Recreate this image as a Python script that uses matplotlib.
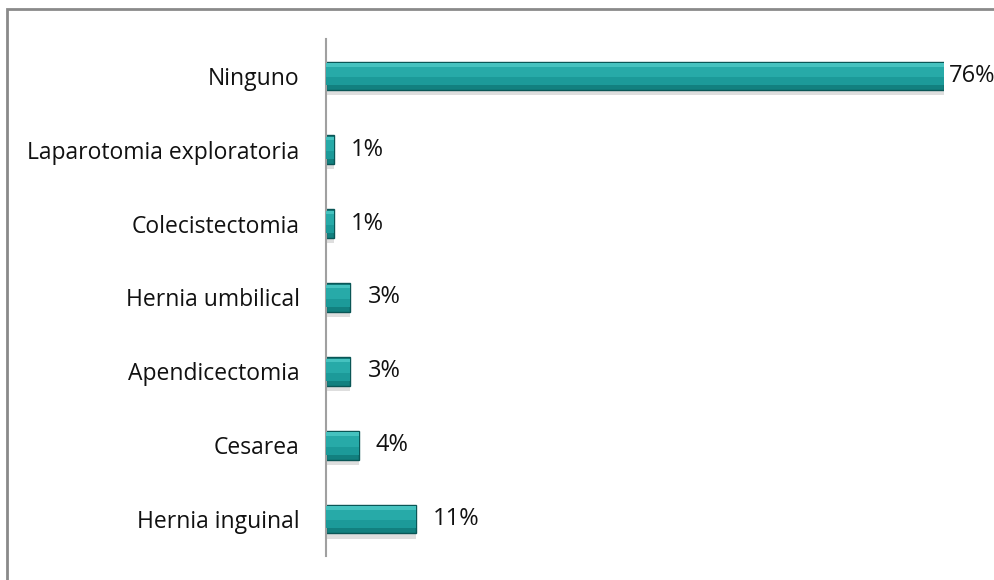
import matplotlib.pyplot as plt
from matplotlib.patches import Rectangle

categorias = ['Hernia inguinal', 'Cesarea', 'Apendicectomia', 'Hernia umbilical',
              'Colecistectomia', 'Laparotomia exploratoria', 'Ninguno']
porcentajes = [11, 4, 3, 3, 1, 1, 76]

plt.rcParams['font.family'] = ['Open Sans', 'DejaVu Sans']

fig = plt.figure(figsize=(9.94, 5.8), dpi=100)
ax = fig.add_axes([0.328, 0.0414, 0.622, 0.8914])

y = list(range(len(categorias)))
h = 0.39
xmax = 76

# sombra debajo de cada barra
ax.barh([v - 0.07 for v in y], porcentajes, height=h, color='#c8c8c8', alpha=0.6, zorder=1)
# barra principal con efecto de bisel
ax.barh(y, porcentajes, height=h, color='#12807f', edgecolor='#0a5656', linewidth=1.0, zorder=2)
ax.barh([v + 0.02 for v in y], porcentajes, height=h * 0.75, color='#1c9a99', linewidth=0, zorder=3)
ax.barh([v + 0.07 for v in y], porcentajes, height=h * 0.45, color='#27aaa8', linewidth=0, zorder=3)
ax.barh([v + 0.15 for v in y], porcentajes, height=h * 0.12, color='#45c2bf', linewidth=0, zorder=3)

for yi, p in zip(y, porcentajes):
    ax.text(min(p + 2.1, xmax + 0.6), yi, f'{p}%', va='center', ha='left',
            fontsize=17, color='#111111', clip_on=False)

ax.set_xlim(0, xmax)
ax.set_ylim(-0.5, len(categorias) - 0.5)
ax.set_yticks(y)
ax.set_yticklabels(categorias, fontsize=16.5, color='#111111')
ax.tick_params(axis='y', length=0, pad=19)
ax.set_xticks([])
for s in ['top', 'right', 'bottom']:
    ax.spines[s].set_visible(False)
ax.spines['left'].set_color('#a0a0a0')
ax.spines['left'].set_linewidth(1.5)

# marco del gráfico
fig.add_artist(Rectangle((7 / 994, -0.1), 1.2, 1 - 9 / 580 + 0.1, transform=fig.transFigure,
                         fill=False, edgecolor='#8a8a8a', linewidth=2.0))

fig.savefig('out.png', dpi=100)
